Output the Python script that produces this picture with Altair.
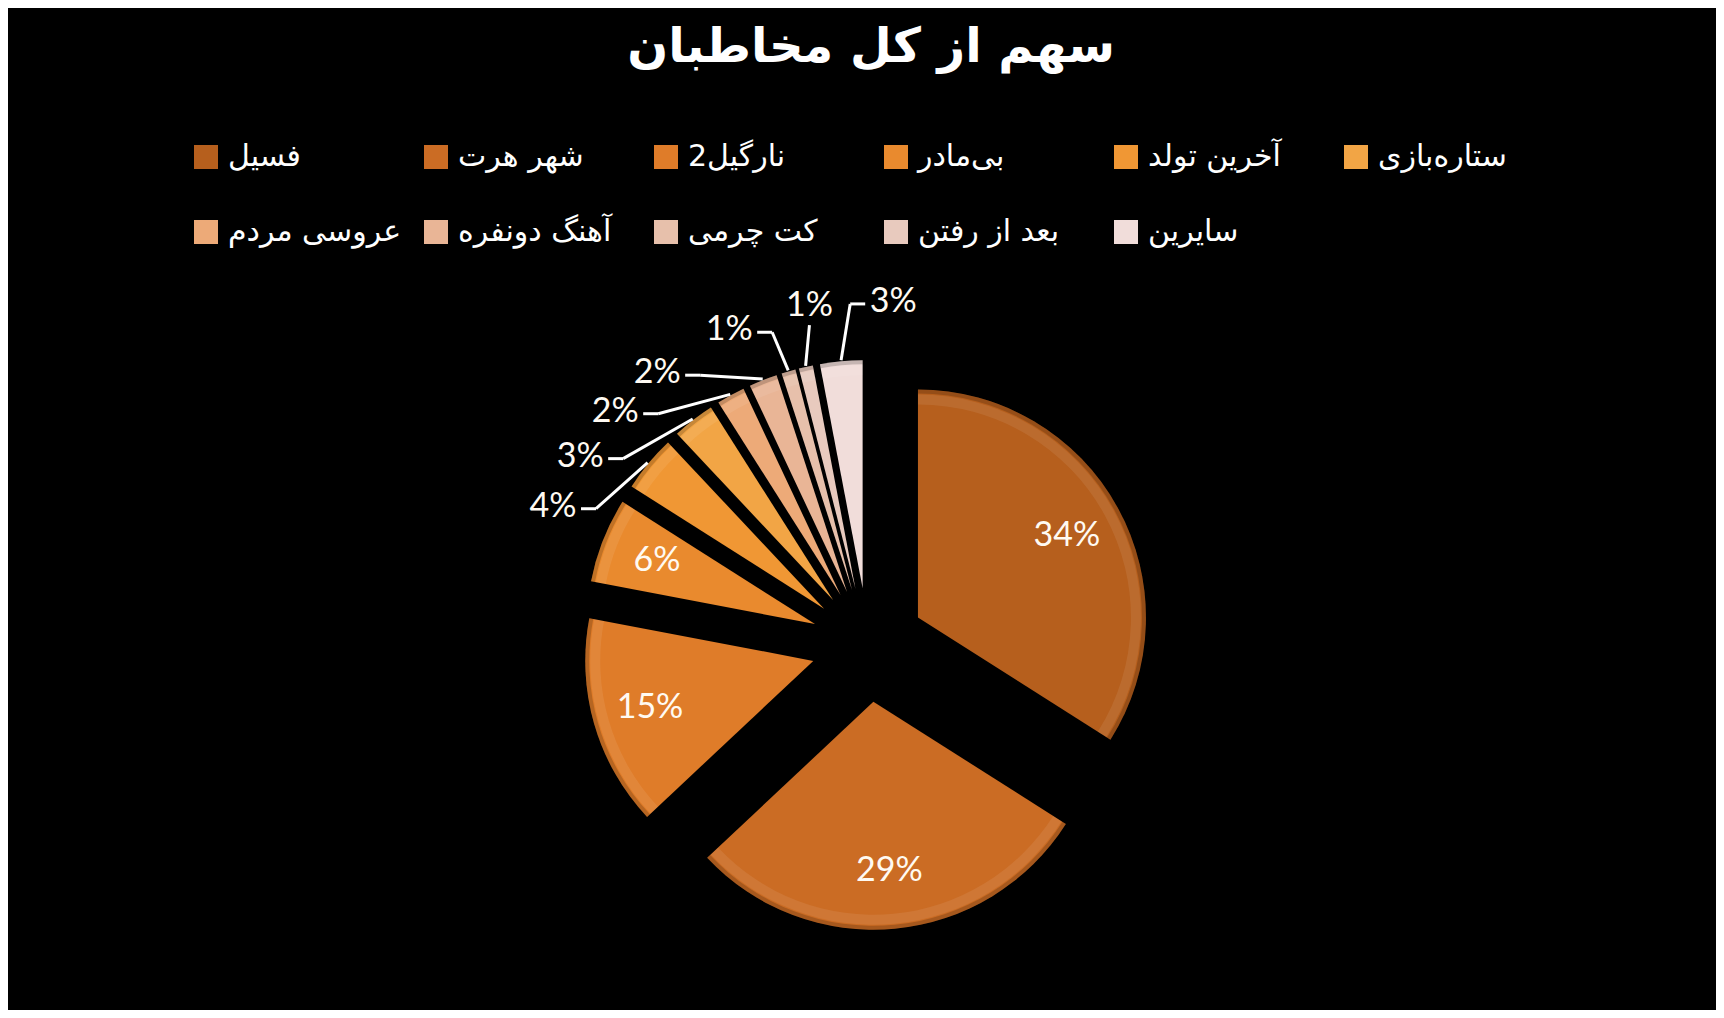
import altair as alt
import pandas as pd

# ---- data ----
names = ["فسیل", "شهر هرت", "نارگیل2", "بی\u200cمادر", "آخرین تولد", "ستاره\u200cبازی",
         "عروسی مردم", "آهنگ دونفره", "کت چرمی", "بعد از رفتن", "سایرین"]
shares = [34, 29, 15, 6, 4, 3, 2, 2, 1, 1, 3]
title_text = "سهم از کل مخاطبان"

# ---- styling ----
palette = ["#B65F1D", "#CB6C24", "#DF7C29", "#E98A2E", "#F09734", "#F2A545",
           "#EDAA78", "#E9B596", "#E7C0AB", "#E8CABE", "#F1DDDA"]

W, H = 1708, 912
PAD_TOP = 90
CX, CY = 860, 547      # pie centre in plot coords
R = 228                # slice radius
D = 57                 # explode distance
LR_IN = 170            # inside label distance from slice apex
LR_OUT = 344           # outside label distance from centre
STEP_A, STEP_B = 14, 9.5   # degrees between outside labels (upper / lower ones)
HW = 25                # half width of a percentage label

df = pd.DataFrame({"name": names, "share": shares, "idx": list(range(len(names)))})

base = (
    alt.Chart(df)
    .transform_joinaggregate(total="sum(share)", n="count()")
    .transform_window(cum="sum(share)", sort=[alt.SortField("idx")], frame=[None, 0])
    .transform_calculate(
        t0="(datum.cum - datum.share) / datum.total * 2 * PI",
        t1="datum.cum / datum.total * 2 * PI",
        mid="(datum.cum - datum.share / 2) / datum.total * 2 * PI",
    )
    .transform_joinaggregate(mmax="max(mid)")
    .transform_calculate(
        ex=f"{CX} + {D} * sin(datum.mid)",
        ey=f"{CY} - {D} * cos(datum.mid)",
        inside="datum.share >= 5",
        rk="datum.n - 1 - datum.idx",
    )
    .transform_calculate(
        langle=(
            f"datum.mmax + (9.6 - min(datum.rk, 3) * {STEP_A}"
            f" - max(datum.rk - 3, 0) * {STEP_B}) * PI / 180"
        ),
    )
    .transform_calculate(
        lx=f"datum.inside ? datum.ex + {LR_IN} * sin(datum.mid) : {CX} + {LR_OUT} * sin(datum.langle)",
        ly=f"datum.inside ? datum.ey - {LR_IN} * cos(datum.mid) : {CY} - {LR_OUT} * cos(datum.langle)",
        tx=f"{CX} + {R + D + 1} * sin(datum.mid)",
        ty=f"{CY} - {R + D + 1} * cos(datum.mid)",
        label="datum.share + '%'",
    )
    .transform_calculate(
        side="datum.tx > datum.lx ? 1 : -1",
        vert="abs(datum.tx - datum.lx) < 30",
    )
    .transform_calculate(
        bx=f"datum.vert ? datum.lx : datum.lx + datum.side * {HW + 18}",
        cx2=f"datum.vert ? datum.lx : datum.lx + datum.side * {HW + 3}",
        by="datum.vert ? datum.ly + 19 : datum.ly + 2",
    )
)

xy = dict(
    x=alt.X("ex:Q", scale=None, axis=None),
    y=alt.Y("ey:Q", scale=None, axis=None),
    theta=alt.Theta("t0:Q", scale=None),
    theta2=alt.Theta2("t1:Q"),
    order=alt.Order("idx:Q"),
)

arcs = base.mark_arc(radius=R).encode(
    color=alt.Color(
        "name:N",
        scale=alt.Scale(domain=names, range=palette),
        legend=alt.Legend(
            title=None,
            orient="none",
            legendX=183,
            legendY=44,
            direction="horizontal",
            columns=6,
            gridAlign="all",
            symbolType="square",
            symbolSize=576,
            symbolStrokeWidth=0,
            symbolOpacity=1,
            labelFont="DejaVu Sans",
            labelFontSize=30,
            labelColor="white",
            labelOffset=7,
            labelLimit=400,
            columnPadding=19,
            rowPadding=45,
        ),
    ),
    **xy,
)

# soft bevel: inner highlight band and a darker rim
rim_light = base.mark_arc(radius=R - 5, radius2=R - 15, color="white", opacity=0.08).encode(**xy)
rim_dark = base.mark_arc(radius=R, radius2=R - 4, color="black", opacity=0.18).encode(**xy)

outside = base.transform_filter("!datum.inside")
leader_diag = outside.mark_rule(color="white", strokeWidth=3).encode(
    x=alt.X("tx:Q", scale=None, axis=None),
    y=alt.Y("ty:Q", scale=None, axis=None),
    x2="bx:Q",
    y2="by:Q",
)
leader_flat = outside.transform_filter("!datum.vert").mark_rule(color="white", strokeWidth=3).encode(
    x=alt.X("bx:Q", scale=None, axis=None),
    y=alt.Y("by:Q", scale=None, axis=None),
    x2="cx2:Q",
    y2="by:Q",
)

labels = base.mark_text(
    font="Lato", fontSize=34, color="#FFFAF2", align="center", baseline="middle"
).encode(
    x=alt.X("lx:Q", scale=None, axis=None),
    y=alt.Y("ly:Q", scale=None, axis=None),
    text="label:N",
)

chart = (
    alt.layer(arcs, rim_light, rim_dark, leader_diag, leader_flat, labels)
    .properties(
        width=W,
        height=H,
        title=alt.TitleParams(
            text=title_text,
            font="DejaVu Sans",
            fontSize=48,
            fontWeight="bold",
            color="white",
            anchor="middle",
            frame="group",
            baseline="middle",
            offset=48,
            dy=46,
            dx=9,
        ),
        autosize=alt.AutoSizeParams(type="none"),
        padding={"left": 0, "top": PAD_TOP, "right": 0, "bottom": 0},
        background="black",
    )
    .configure_view(stroke=None)
)

chart.save("out.html", embed_options={"renderer": "svg", "actions": False})
